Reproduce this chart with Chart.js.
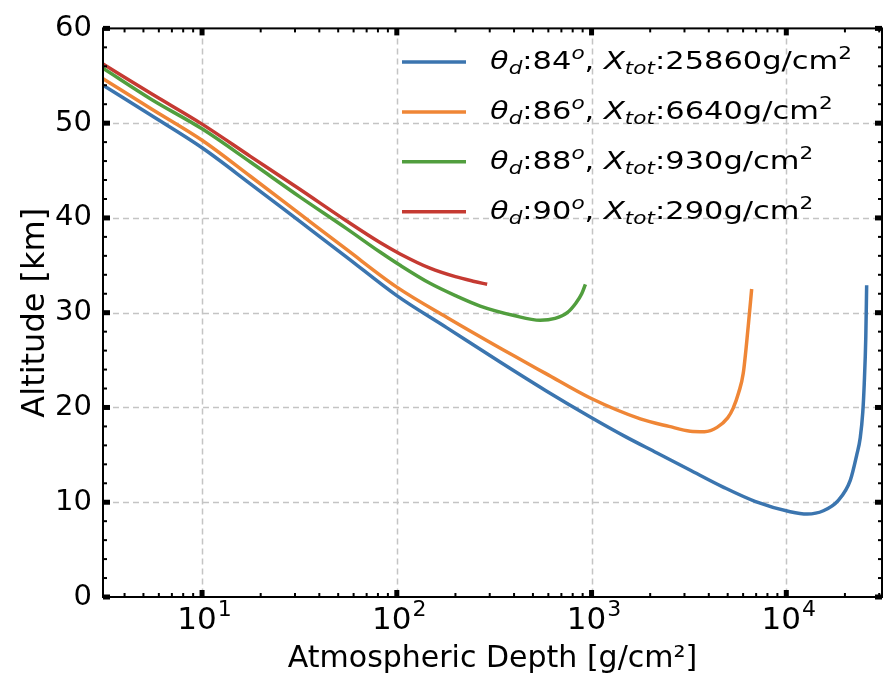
<!DOCTYPE html>
<html>
<head>
<meta charset="utf-8">
<script src="https://cdn.jsdelivr.net/npm/chart.js@4.4.1/dist/chart.umd.min.js"></script>
<style>
  html, body { margin: 0; padding: 0; background: #fff; }
  #wrap { width: 890px; height: 679px; }
</style>
</head>
<body>
<div id="wrap"><canvas id="depthChart" width="890" height="679"></canvas></div>
<script>
// values: depth in g/cm2, altitude in km
const depth84 = [3.1, 5.5, 10, 17.7, 31.9, 55, 100, 181, 339, 580, 985, 1500, 2170, 3200, 4740, 6900, 10470, 12800, 15500, 18500, 21300, 23000, 23970, 24700, 25130, 25600, 25860];
const alt84   = [54.0, 50.8, 47.4, 43.6, 39.6, 35.9, 31.8, 28.4, 24.8, 21.8, 19.0, 16.9, 15.2, 13.4, 11.6, 10.1, 9.0, 8.75, 9.1, 10.2, 12.3, 15.0, 16.8, 19.5, 22.5, 27.5, 32.9];

const depth86 = [3.1, 5.5, 10, 17.7, 31.9, 55, 100, 181, 395, 580, 985, 1780, 2500, 3210, 3800, 4410, 5000, 5330, 5700, 6010, 6370, 6640];
const alt86   = [54.7, 51.5, 48.2, 44.4, 40.4, 36.7, 32.7, 29.5, 25.5, 23.6, 21.0, 18.8, 18.0, 17.5, 17.45, 17.9, 18.9, 19.9, 21.6, 23.6, 28.5, 32.5];

const depth88 = [3.1, 5.5, 10, 17.7, 31.9, 55, 82, 104, 148, 200, 268, 400, 545, 650, 750, 830, 890, 930];
const alt88   = [55.8, 52.5, 49.4, 45.9, 42.2, 38.9, 36.4, 35.0, 33.1, 31.8, 30.7, 29.7, 29.2, 29.4, 30.0, 31.0, 32.0, 33.0];

const depth90 = [3.1, 5.5, 10, 17.7, 31.9, 55, 82, 104, 148, 200, 250, 291];
const alt90   = [56.25, 53.1, 49.9, 46.5, 43.0, 39.7, 37.4, 36.2, 34.7, 33.8, 33.3, 33.0];

const angles = [84, 86, 88, 90];
const totals = [25860, 6640, 930, 290];
const colors = ['#3b75af', '#ef8636', '#519e3e', '#c53a32'];

const xDecades = [10, 100, 1000, 10000];
const xExponents = ['1', '2', '3', '4'];
const yTicks = [0, 10, 20, 30, 40, 50, 60];

const FONT = "'DejaVu Sans', sans-serif";

function pts(xs, ys) {
  return xs.map((x, i) => ({ x: x, y: ys[i] }));
}

const series = [pts(depth84, alt84), pts(depth86, alt86), pts(depth88, alt88), pts(depth90, alt90)];

// grid, frame, inward ticks and 10^n labels like the original figure
const frameTicks = {
  id: 'frameTicks',
  beforeDatasetsDraw(chart) {
    const { ctx, chartArea: a, scales } = chart;
    ctx.save();
    ctx.strokeStyle = '#c4c4c4';
    ctx.lineWidth = 1.5;
    ctx.setLineDash([6, 4]);
    xDecades.forEach(v => {
      const px = Math.round(scales.x.getPixelForValue(v)) + 0.5;
      ctx.beginPath(); ctx.moveTo(px, a.top); ctx.lineTo(px, a.bottom); ctx.stroke();
    });
    yTicks.slice(1, -1).forEach(v => {
      const py = Math.round(scales.y.getPixelForValue(v)) + 0.5;
      ctx.beginPath(); ctx.moveTo(a.left, py); ctx.lineTo(a.right, py); ctx.stroke();
    });
    ctx.restore();
  },
  afterDraw(chart) {
    const { ctx, chartArea: a, scales } = chart;
    ctx.save();
    ctx.strokeStyle = '#000';
    ctx.setLineDash([]);

    function xTick(v, len, w) {
      const px = scales.x.getPixelForValue(v);
      if (px < a.left - 0.5 || px > a.right + 0.5) return;
      ctx.lineWidth = w;
      ctx.beginPath(); ctx.moveTo(px, a.bottom); ctx.lineTo(px, a.bottom - len); ctx.stroke();
      ctx.beginPath(); ctx.moveTo(px, a.top); ctx.lineTo(px, a.top + len); ctx.stroke();
    }
    function yTick(v, len, w) {
      const py = scales.y.getPixelForValue(v);
      ctx.lineWidth = w;
      ctx.beginPath(); ctx.moveTo(a.left, py); ctx.lineTo(a.left + len, py); ctx.stroke();
      ctx.beginPath(); ctx.moveTo(a.right, py); ctx.lineTo(a.right - len, py); ctx.stroke();
    }

    // minor x ticks (2..9 per decade)
    [1, 10, 100, 1000, 10000].forEach(d => {
      for (let m = 2; m <= 9; m++) xTick(m * d, 4, 2);
    });
    xDecades.forEach(v => xTick(v, 7, 5));

    for (let v = 0; v <= 60; v += 2) {
      if (v % 10 === 0) yTick(v, 7, 5); else yTick(v, 4, 2);
    }

    ctx.lineWidth = 2;
    ctx.strokeRect(a.left, a.top, a.right - a.left, a.bottom - a.top);

    // x tick labels as 10 with a raised exponent
    ctx.fillStyle = '#000';
    ctx.textBaseline = 'alphabetic';
    xDecades.forEach((v, i) => {
      const px = scales.x.getPixelForValue(v);
      ctx.font = '31px ' + FONT;
      const wBase = ctx.measureText('10').width;
      ctx.font = '22px ' + FONT;
      const wExp = ctx.measureText(xExponents[i]).width;
      const x0 = px - (wBase + wExp) / 2 + 2;
      ctx.font = '31px ' + FONT;
      ctx.fillText('10', x0, 629);
      ctx.font = '22px ' + FONT;
      ctx.fillText(xExponents[i], x0 + wBase + 1, 616);
    });
    ctx.restore();
  }
};

// legend with math-style labels: theta_d:84^o, X_tot:25860g/cm^2
const mathLegend = {
  id: 'mathLegend',
  afterDraw(chart) {
    const { ctx } = chart;
    const size = 24;
    const small = 17;
    const stretch = 1.27;
    ctx.save();
    ctx.textBaseline = 'alphabetic';
    angles.forEach((ang, i) => {
      const cy = 62 + i * 49.9;
      ctx.strokeStyle = colors[i];
      ctx.lineWidth = 3.5;
      ctx.beginPath(); ctx.moveTo(402, cy); ctx.lineTo(466, cy); ctx.stroke();

      ctx.save();
      ctx.translate(490, cy + 7);
      ctx.scale(stretch, 1);
      let x = 0;
      ctx.fillStyle = '#000';
      function put(txt, font, dy) {
        ctx.font = font;
        ctx.fillText(txt, x, dy);
        x += ctx.measureText(txt).width;
      }
      put('θ', 'italic ' + size + 'px ' + FONT, 0);
      put('d', 'italic ' + small + 'px ' + FONT, 5);
      put(':' + ang, size + 'px ' + FONT, 0);
      put('o', 'italic ' + small + 'px ' + FONT, -10);
      put(', ', size + 'px ' + FONT, 0);
      put('X', 'italic ' + size + 'px ' + FONT, 0);
      put('tot', 'italic ' + small + 'px ' + FONT, 5);
      put(':' + totals[i] + 'g/cm', size + 'px ' + FONT, 0);
      put('2', small + 'px ' + FONT, -10);
      ctx.restore();
    });
    ctx.restore();
  }
};

const datasets = series.map((data, i) => ({
  label: 'θd:' + angles[i] + 'o, Xtot:' + totals[i] + 'g/cm2',
  data: data,
  borderColor: colors[i],
  borderWidth: 3.5,
  pointRadius: 0,
  fill: false,
  cubicInterpolationMode: 'monotone'
}));

new Chart(document.getElementById('depthChart'), {
  type: 'line',
  data: { datasets: datasets },
  options: {
    responsive: false,
    animation: false,
    layout: { padding: { top: 16, right: 8, left: 0, bottom: 0 } },
    plugins: { legend: { display: false }, tooltip: { enabled: false } },
    scales: {
      x: {
        type: 'logarithmic',
        min: 3.1,
        max: 31000,
        grid: { display: false, drawTicks: false },
        border: { display: false },
        afterFit(scale) { scale.height = 82; },
        ticks: { display: false, autoSkip: false },
        title: {
          display: true,
          text: 'Atmospheric Depth [g/cm²]',
          color: '#000',
          font: { family: FONT, size: 30 },
          padding: { top: 0, bottom: 2 }
        }
      },
      y: {
        min: 0,
        max: 60,
        grid: { display: false, drawTicks: false },
        border: { display: false },
        afterFit(scale) { scale.width = 103; },
        ticks: {
          stepSize: 10,
          padding: 11,
          color: '#000',
          font: { family: FONT, size: 29 }
        },
        title: {
          display: true,
          text: 'Altitude [km]',
          color: '#000',
          font: { family: FONT, size: 32 },
          padding: { top: 16, bottom: 0 }
        }
      }
    }
  },
  plugins: [frameTicks, mathLegend]
});
</script>
</body>
</html>
